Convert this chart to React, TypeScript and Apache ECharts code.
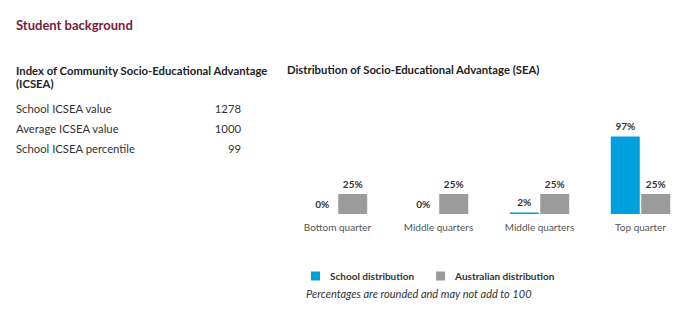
import React, { useEffect, useRef } from "react";
import * as echarts from "echarts";

const categories = ["Bottom quarter", "Middle quarters", "Middle quarters", "Top quarter"];
const schoolValues = [0, 0, 2, 97];
const australianValues = [25, 25, 25, 25];
const seriesNames = ["School distribution", "Australian distribution"];
const icseaLabels = ["School ICSEA value", "Average ICSEA value", "School ICSEA percentile"];
const icseaValues = ["1278", "1000", "99"];

const FONT = "Lato, 'Open Sans', sans-serif";
const TXT = "#333333";

export default function App() {
  const ref = useRef<HTMLDivElement>(null);
  useEffect(() => {
    if (!ref.current) return;
    const chart = echarts.init(ref.current, undefined, { renderer: "svg" });
    const graphics: any[] = [
      {
        type: "text",
        left: 16,
        top: 18,
        style: { text: "Student background", font: `bold 13px ${FONT}`, fill: "#7b1a3c" },
      },
      {
        type: "text",
        left: 16,
        top: 64,
        style: {
          text: "Index of Community Socio-Educational Advantage\n(ICSEA)",
          font: `bold 11.3px ${FONT}`,
          fill: "#222222",
          lineHeight: 13,
        },
      },
      {
        type: "text",
        left: 287,
        top: 64,
        style: {
          text: "Distribution of Socio-Educational Advantage (SEA)",
          font: `bold 11.3px ${FONT}`,
          fill: "#222222",
        },
      },
      {
        type: "text",
        left: 306,
        top: 288,
        style: {
          text: "Percentages are rounded and may not add to 100",
          font: `italic 11px ${FONT}`,
          fill: TXT,
        },
      },
    ];
    icseaLabels.forEach((l, i) => {
      graphics.push({
        type: "text",
        left: 16,
        top: 103 + i * 20,
        style: { text: l, font: `11.3px ${FONT}`, fill: TXT },
      });
      graphics.push({
        type: "text",
        x: 241,
        y: 103 + i * 20,
        style: { text: icseaValues[i], font: `11.3px ${FONT}`, fill: TXT, align: "right", verticalAlign: "top" },
      });
    });

    chart.setOption({
      animation: false,
      textStyle: { fontFamily: FONT },
      grid: { left: 287, right: 9, top: 134, bottom: 112 },
      legend: {
        left: 306,
        top: 266,
        icon: "rect",
        itemWidth: 9,
        itemHeight: 9,
        itemGap: 22,
        data: seriesNames,
        textStyle: { fontFamily: FONT, fontSize: 10, fontWeight: "bold", color: TXT, padding: [0, 0, 0, 5] },
      },
      xAxis: {
        type: "category",
        data: categories,
        axisLine: { show: false },
        axisTick: { show: false },
        axisLabel: { color: "#555555", fontSize: 10, margin: 8, fontFamily: FONT, interval: 0 },
      },
      yAxis: { type: "value", min: 0, max: 100, show: false, splitLine: { show: false } },
      series: [
        {
          name: seriesNames[0],
          type: "bar",
          data: schoolValues,
          barWidth: 29,
          barGap: "5%",
          itemStyle: { color: "#00a0de" },
          label: { show: true, position: "top", formatter: "{c}%", fontSize: 10, fontWeight: "bold", color: TXT, distance: 5 },
        },
        {
          name: seriesNames[1],
          type: "bar",
          data: australianValues,
          barWidth: 29,
          itemStyle: { color: "#9b9b9b" },
          label: { show: true, position: "top", formatter: "{c}%", fontSize: 10, fontWeight: "bold", color: TXT, distance: 5 },
        },
      ],
      graphic: graphics,
    });
    return () => chart.dispose();
  }, []);
  return <div ref={ref} style={{ width: 700, height: 326, position: "absolute", left: 0, top: 0 }} />;
}
